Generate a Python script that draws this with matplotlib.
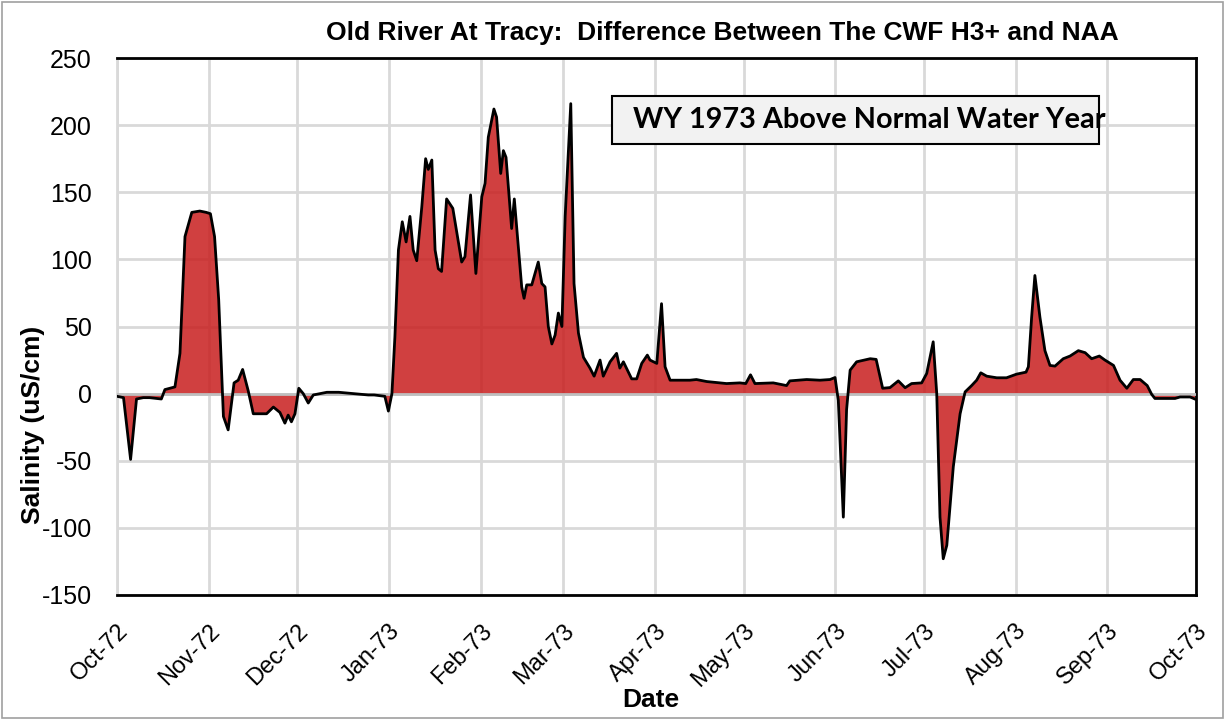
import pandas as pd
import matplotlib.pyplot as plt
import matplotlib.dates as mdates
from matplotlib.patches import Rectangle

# days after 1 Oct 1972 and the salinity difference read at those days (uS/cm)
days = [0, 2.2, 4.6, 6.6, 8.9, 11, 15, 16.2, 19.6, 21.3, 23, 25.3, 28, 30.2, 31.6,
        33, 34.4, 36, 37.6, 39.6, 41, 42.5, 44.4, 46.1, 50.6, 52.9, 55.1, 56.8, 57.9,
        59, 60.2, 61.5, 63, 64.7, 66.4, 71, 75, 85, 87, 90.6, 91.8, 93, 94, 95.2,
        96.5, 97.8, 99.1, 100.2, 101.4, 103.1, 104.4, 105.3, 106.5, 107.6, 108.7,
        109.8, 111.5, 113.6, 116.6, 117.7, 119.6, 121.4, 123.4, 124.5, 125.6, 127.5,
        128.4, 129.8, 130.7, 131.6, 133.5, 134.4, 136.9, 137.7, 138.6, 140.3, 142.5,
        143.7, 144.8, 145.9, 147.1, 148.2, 149.3, 150.5, 151.6, 153.5, 154.6, 156.1,
        157.8, 160, 161.4, 163.4, 164.5, 166.8, 169, 170.1, 171.3, 174.1, 175.8,
        177.5, 179.4, 180.3, 182.6, 184.2, 185.4, 187.1, 193.8, 196, 199.5, 206.2,
        210.7, 212.7, 214.3, 215.8, 222, 226.5, 227.6, 233.3, 237.8, 241.2, 242.9,
        244, 245.7, 246.8, 248, 250.2, 254.8, 256.8, 259, 261.5, 264.3, 266.6, 268.8,
        272.2, 273.9, 276.1, 277.3, 278.4, 279.5, 280.7, 282.9, 285.2, 286.9, 289.1,
        290.8, 292.2, 294.2, 297.6, 300.9, 304.3, 307.5, 308.3, 309.4, 310.5, 312.2,
        313.9, 315.6, 317.3, 320.1, 322.4, 325.2, 327.5, 329.7, 332.3, 334.2, 337.1,
        339.3, 341.6, 343.8, 346.1, 348.5, 350, 351.1, 357.9, 359.6, 363, 364.6]
salinity = [-2, -3, -49, -4, -3, -3, -4, 3, 5, 30, 117, 135, 136, 135, 134,
            117, 70, -17, -27, 8, 10, 18, 2, -15, -15, -10, -14, -22, -16,
            -21, -15, 4, 0, -7, -1, 1, 1, -1, -1, -2, -13, 0, 42, 107,
            128, 113, 132, 107, 99, 139, 175, 167, 174, 107, 93,
            91, 145, 138, 98, 102, 148, 89.5, 146.6, 156.6, 191, 212,
            206, 164, 181, 176, 123, 145, 79.5, 71, 81, 81, 98,
            82, 79.5, 50, 37, 43.6, 60, 50, 132, 216, 82, 45,
            27, 19, 13, 25, 13, 23.7, 30, 19, 23.7, 11, 11,
            22.5, 28.7, 25, 22.5, 67, 20, 10, 10, 10.5, 9, 7.5,
            8, 7.5, 14, 7.5, 8, 6, 9.5, 10.5, 10, 10.5, 12,
            -5, -92, -12, 17.5, 23.7, 26, 25.5, 4, 4.5, 9.5, 4.4, 7.5,
            8, 15, 38.6, 0, -92, -123, -113, -54.5, -15, 1.3, 6,
            10, 15.5, 13, 11.8, 11.8, 14.5, 16, 20, 57, 88, 57,
            32, 21, 20.5, 26, 28, 32, 30.5, 26, 28, 25, 21,
            10, 4, 10.5, 10.5, 6, -0.5, -3.6, -3.6, -2.5, -2.5, -4]

start = pd.Timestamp("1972-10-01")
dates = start + pd.to_timedelta(days, unit="D")
month_ticks = pd.date_range("1972-10-01", "1973-10-01", freq="MS")

plt.rcParams["font.family"] = ["Liberation Sans", "DejaVu Sans"]
plt.rcParams["axes.unicode_minus"] = False

fig = plt.figure(figsize=(12.25, 7.19), dpi=100)
ax = fig.add_axes([117 / 1225, 1 - 595 / 719, (1196 - 117) / 1225, (595 - 58) / 719])

ax.fill_between(dates, salinity, 0, color="#C81E1E", alpha=0.85, linewidth=0, zorder=2)
ax.plot(dates, salinity, color="black", linewidth=2, zorder=4)
ax.axhline(0, color="#BFBFBF", linewidth=2, zorder=3)

ax.set_xlim(month_ticks[0], month_ticks[-1])
ax.set_ylim(-150, 250)
ax.set_yticks(range(-150, 251, 50))
ax.set_xticks(month_ticks)
ax.xaxis.set_major_formatter(mdates.DateFormatter("%b-%y"))
ax.grid(True, color="#D9D9D9", linewidth=2, zorder=0)
ax.set_axisbelow(True)
ax.tick_params(length=0)
ax.tick_params(axis="y", labelsize=18, pad=18)
ax.tick_params(axis="x", labelsize=17, pad=18)
for lab in ax.get_xticklabels():
    lab.set_rotation(45)
    lab.set_ha("right")
    lab.set_rotation_mode("anchor")

for side in ["top", "right", "bottom"]:
    ax.spines[side].set_color("black")
    ax.spines[side].set_linewidth(2)
ax.spines["left"].set_color("#D9D9D9")
ax.spines["left"].set_linewidth(2)

ax.set_xlabel("Date", fontsize=19, fontweight="bold", va="center")
ax.xaxis.set_label_coords(0.495, -0.1955)
ax.set_ylabel("Salinity (uS/cm)", fontsize=19, fontweight="bold", va="center")
ax.yaxis.set_label_coords(-0.078, 0.3166)

fig.text(722 / 1225, 1 - 33 / 719, "Old River At Tracy:  Difference Between The CWF H3+ and NAA",
         ha="center", va="center", fontsize=19, fontweight="bold")

ax.add_patch(Rectangle((0.4588, 0.840), 0.4512, 0.089, transform=ax.transAxes,
                       facecolor="#F2F2F2", edgecolor="black", linewidth=1.5, zorder=6))
ax.text(0.478, 0.885, "WY 1973 Above Normal Water Year", transform=ax.transAxes,
        ha="left", va="center", fontsize=20.8, fontweight="bold", family=["Lato", "DejaVu Sans"],
        zorder=7)

fig.patches.append(Rectangle((0.002, 0.002), 0.996, 0.995, transform=fig.transFigure,
                             fill=False, edgecolor="#A0A0A0", linewidth=1.2))

fig.savefig("out.png", dpi=100)
